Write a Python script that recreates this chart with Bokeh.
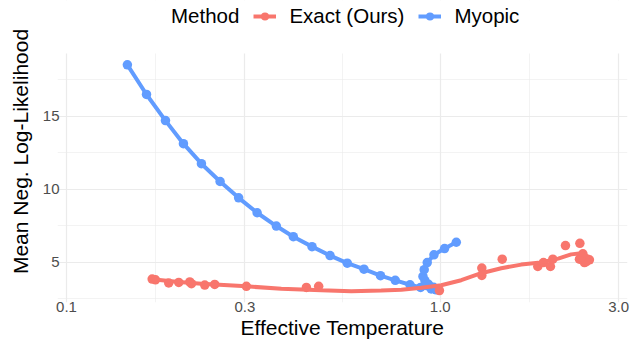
import numpy as np
from bokeh.plotting import figure
from bokeh.models import (Range1d, FixedTicker, Legend, LegendItem, PrintfTickFormatter,
                          BoxAnnotation)
from bokeh.embed import file_html
from bokeh.resources import INLINE

# ---- data ----
myopic_temp = [0.1455, 0.1637, 0.184, 0.2055, 0.2296, 0.2576, 0.2888, 0.3236, 0.3643,
               0.4045, 0.4539, 0.5072, 0.564, 0.625, 0.692, 0.758, 0.830, 0.886, 0.946,
               0.975, 0.985, 0.96, 0.93, 0.91, 0.899, 0.906, 0.923, 0.962, 1.027, 1.104]
myopic_nll = [18.53, 16.50, 14.71, 13.13, 11.76, 10.54, 9.42, 8.40, 7.49,
              6.76, 6.08, 5.47, 4.95, 4.54, 4.09, 3.77, 3.47, 3.29, 3.18,
              3.12, 3.20, 3.30, 3.50, 3.75, 4.04, 4.50, 4.99, 5.52, 5.95, 6.38]

exact_temp = [0.1695, 0.173, 0.1877, 0.1997, 0.2137, 0.2159, 0.2344, 0.2492, 0.3029,
              0.4384, 0.4728, 0.995, 1.292, 1.292, 1.465, 1.824, 1.889, 1.972, 2.001,
              2.163, 2.364, 2.408, 2.358, 2.431, 2.507, 2.46, 2.38]
exact_nll = [3.86, 3.81, 3.59, 3.63, 3.66, 3.54, 3.45, 3.49, 3.36,
             3.29, 3.36, 3.07, 4.61, 4.11, 5.22, 4.72, 4.99, 4.72, 5.22,
             6.15, 6.31, 5.59, 5.22, 4.99, 5.18, 5.05, 5.35]

# smoothed trend of the Exact series
exact_smooth_temp = [0.1695, 0.1968, 0.2296, 0.3029, 0.3757, 0.4805, 0.578, 0.695, 0.787,
                     0.890, 1.006, 1.138, 1.287, 1.456, 1.647, 1.828, 2.068, 2.240, 2.353,
                     2.507]
exact_smooth_nll = [3.85, 3.68, 3.54, 3.36, 3.20, 3.09, 3.03, 3.07, 3.13,
                    3.27, 3.44, 3.78, 4.26, 4.60, 4.85, 4.97, 5.26, 5.55, 5.61,
                    5.38]

x_ticks = [0.1, 0.3, 1.0, 3.0]
y_ticks = [5, 10, 15]
y_minor = [2.5, 7.5, 12.5, 17.5]

RED = "#F8766D"
BLUE = "#619CFF"
FONT = "Liberation Sans"

Y_LO, Y_HI = 2.255, 19.305      # visible panel extent
Y_TOP = 22.934                  # extra headroom that holds the legend

p = figure(width=635, height=343, x_axis_type="log",
           x_range=Range1d(0.0946, 3.17), y_range=Range1d(Y_LO, Y_TOP),
           output_backend="svg", toolbar_location=None,
           min_border_left=57, min_border_right=8, min_border_top=0, min_border_bottom=41)

b_line = p.line(myopic_temp, myopic_nll, line_color=BLUE, line_width=4)
b_pts = p.scatter(myopic_temp, myopic_nll, fill_color=BLUE, line_color=None, size=9.5)
r_pts = p.scatter(exact_temp, exact_nll, fill_color=RED, line_color=None, size=9.5)
r_line = p.line(exact_smooth_temp, exact_smooth_nll, line_color=RED, line_width=4)
# empty, invisible renderer that carries the legend title "Method"
title_stub = p.scatter(x=[], y=[], fill_alpha=0, line_alpha=0)

x_minor = [float(np.sqrt(a * b)) for a, b in zip(x_ticks[:-1], x_ticks[1:])]
p.xaxis.ticker = FixedTicker(ticks=x_ticks, minor_ticks=x_minor)
p.xaxis.formatter = PrintfTickFormatter(format="%.1f")
p.yaxis.ticker = FixedTicker(ticks=y_ticks, minor_ticks=y_minor)
p.yaxis.bounds = (Y_LO, Y_HI)

for ax in (p.xaxis[0], p.yaxis[0]):
    ax.axis_line_color = None
    ax.major_tick_line_color = None
    ax.minor_tick_line_color = None
    ax.major_tick_out = 0
    ax.minor_tick_out = 0
    ax.major_label_text_font = FONT
    ax.major_label_text_font_size = "15px"
    ax.major_label_text_color = "#4D4D4D"
    ax.axis_label_text_font = FONT
    ax.axis_label_text_font_size = "21px"
    ax.axis_label_text_font_style = "normal"
    ax.axis_label_text_color = "black"
    ax.axis_label_text_line_height = 1.0
    ax.major_label_text_line_height = 1.0

p.xaxis.axis_label = "Effective Temperature"
p.yaxis.axis_label = "Mean Neg. Log-Likelihood"
p.xaxis.major_label_standoff = -1
p.xaxis.axis_label_standoff = 1
p.yaxis.major_label_standoff = -2
p.yaxis.axis_label_standoff = 8

for g in (p.xgrid[0], p.ygrid[0]):
    g.grid_line_color = "#EBEBEB"
    g.grid_line_width = 1.2
    g.minor_grid_line_color = "#EBEBEB"
    g.minor_grid_line_width = 0.6

p.outline_line_color = None
p.background_fill_color = "white"
p.border_fill_color = "white"

# blank strip above the panel (hides grid lines in the legend area)
p.add_layout(BoxAnnotation(bottom=Y_HI, fill_color="white", fill_alpha=1.0,
                           line_color=None, line_alpha=0))

legend = Legend(
    items=[LegendItem(label="Method", renderers=[title_stub]),
           LegendItem(label="Exact (Ours)", renderers=[r_line, r_pts]),
           LegendItem(label="Myopic", renderers=[b_line, b_pts])],
    orientation="horizontal",
    location=(78, 274),
    label_text_font=FONT, label_text_font_size="20.5px", label_text_color="black",
    glyph_width=23, glyph_height=20, label_standoff=13, spacing=14,
    padding=0, margin=0, border_line_color=None, background_fill_alpha=0,
)
p.add_layout(legend)

open("out.html", "w").write(file_html(p, INLINE))
